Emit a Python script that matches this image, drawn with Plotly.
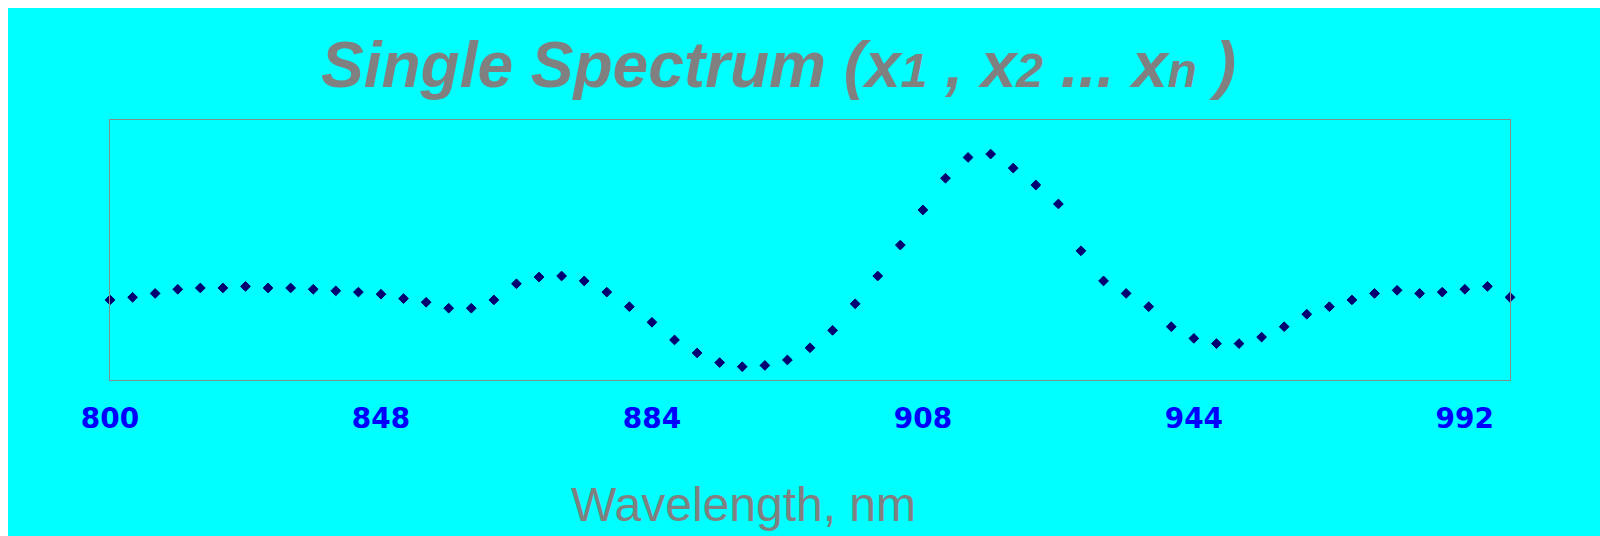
import plotly.graph_objects as go

wavelengths = [
    800, 804, 808, 812, 816, 820, 824, 828, 832, 836, 840, 844, 848,
    851, 854, 857, 860, 863, 866, 869, 872, 875, 878, 881, 884,
    886, 888, 890, 892, 894, 896, 898, 900, 902, 904, 906, 908,
    911, 914, 917, 920, 923, 926, 929, 932, 935, 938, 941, 944,
    948, 952, 956, 960, 964, 968, 972, 976, 980, 984, 988, 992,
    996, 1000,
]
signal = [
    0.308, 0.318, 0.333, 0.349, 0.354, 0.354, 0.360, 0.354, 0.354, 0.349,
    0.343, 0.338, 0.330, 0.313, 0.299, 0.276, 0.276, 0.308, 0.370, 0.396,
    0.400, 0.381, 0.338, 0.282, 0.222, 0.154, 0.104, 0.067, 0.051, 0.056,
    0.077, 0.124, 0.191, 0.293, 0.400, 0.519, 0.654, 0.776, 0.856, 0.869,
    0.815, 0.750, 0.677, 0.497, 0.381, 0.333, 0.282, 0.205, 0.160, 0.140,
    0.140, 0.165, 0.205, 0.253, 0.282, 0.308, 0.333, 0.345, 0.333, 0.338,
    0.349, 0.360, 0.318,
]
tick_labels = ["800", "848", "884", "908", "944", "992"]

x_cat = [str(w) for w in wavelengths]

W, H = 1592, 528
L, R, T, B = 102, 90, 112, 156
pw, ph = W - L - R, H - T - B


def px_x(p):
    return (p - L) / pw


def px_y(p):
    return (H - B - p) / ph


fig = go.Figure()
fig.add_trace(go.Scatter(
    x=x_cat, y=signal, mode="markers",
    marker=dict(symbol="diamond", size=7.5, color="#000070",
                line=dict(color="#000070", width=1)),
    cliponaxis=False, showlegend=False, hoverinfo="x+y",
))

fig.update_layout(
    width=W, height=H,
    margin=dict(l=L, r=R, t=T, b=B),
    paper_bgcolor="#00ffff",
    plot_bgcolor="#00ffff",
    xaxis=dict(
        type="category", range=[0, len(x_cat) - 1],
        tickmode="array", tickvals=tick_labels, ticktext=tick_labels,
        showgrid=False, zeroline=False, ticks="",
        showline=True, mirror=True, linecolor="#7f8f8f", linewidth=1,
        tickfont=dict(family="DejaVu Sans", size=28, color="#0000ff", weight="bold"),
        ticklabelstandoff=13,
    ),
    yaxis=dict(
        range=[0, 1], showticklabels=False, showgrid=False, zeroline=False,
        ticks="", showline=True, mirror=True, linecolor="#7f8f8f", linewidth=1,
    ),
    annotations=[
        dict(
            text="<b><i>Single Spectrum (x<span style='font-size:48px'>1</span> , "
                 "x<span style='font-size:48px'>2</span> ... "
                 "x<span style='font-size:48px'>n</span> )</i></b>",
            xref="paper", yref="paper", x=px_x(770), y=px_y(57),
            xanchor="center", yanchor="middle", showarrow=False,
            font=dict(family="Liberation Sans", size=64, color="#808080"),
        ),
        dict(
            text="Wavelength, nm",
            xref="paper", yref="paper", x=px_x(735), y=px_y(496),
            xanchor="center", yanchor="middle", showarrow=False,
            font=dict(family="Liberation Sans", size=48, color="#808080"),
        ),
    ],
)

fig.write_html(
    "out.html",
    post_script="document.body.style.margin='8px 0 0 8px';"
                "document.body.style.overflow='hidden';",
)
